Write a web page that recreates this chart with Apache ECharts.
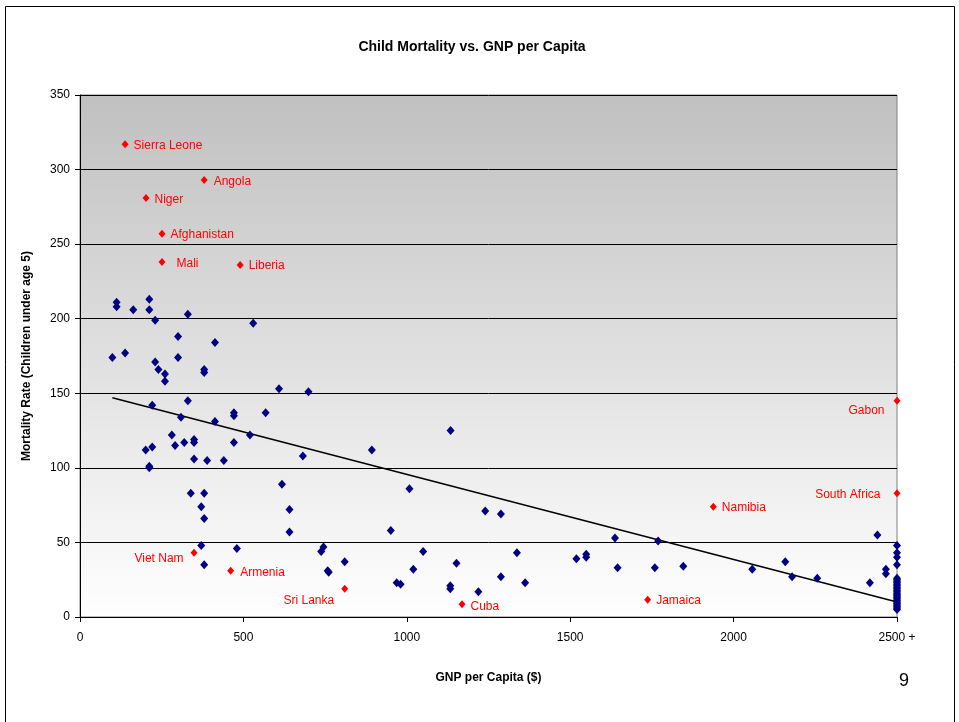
<!DOCTYPE html>
<html><head><meta charset="utf-8">
<script src="https://cdn.jsdelivr.net/npm/echarts@6/dist/echarts.min.js"></script>
<style>html,body{margin:0;padding:0;background:#fff}#c{width:959px;height:722px}</style>
</head><body><div id="c"></div>
<script>
// ---- data ----
const xTicks = [0, 500, 1000, 1500, 2000, 2500];
const yTicks = [0, 50, 100, 150, 200, 250, 300, 350];
const blueX = [112,112,163,212,212,230,330,530,300,413,99,138,230,300,240,260,380,380,260,609,699,221,330,309,413,471,471,568,520,281,291,319,349,349,471,201,221,682,349,389,440,212,212,339,380,371,380,618,641,641,371,480,380,1134,893,1008,951,1240,1288,745,738,810,761,758,1050,1020,969,981,1133,1133,1152,1219,1288,1337,1362,1519,1549,1549,1637,1645,1769,1759,1846,2440,2057,2158,2179,2256,2417,2466,2466,
 2500,2500,2500,2500,2500,2500,2500,2500,2500,2500,2500,2500,2500,2500,2500,2500,2500,2500,2500,2500,2500,2500,2500,2500,2500,2500];
const blueY = [211,208,206,213,206,199,203,197,188,184,174,177,171,174,166,163,166,164,158,153,151,142,145,134,131,137,135,137,122,122,115,117,117,119,117,112,114,108,106,105,105,100,101,83,83,74,66,89,72,57,48,46,35,125,112,86,58,71,69,47,44,37,30,31,44,32,23,22,21,19,36,17,27,43,23,39,40,42,53,33,51,33,34,55,32,37,27,26,23,32,29,
 48,43,40,35,26,25,24,23,22,21,20,19,18,17,16,15,14,13,12,11,10,9,8,7,6,5];
const redNames = ["Sierra Leone","Angola","Niger","Afghanistan","Mali","Liberia","Gabon","South Africa","Namibia","Viet Nam","Armenia","Sri Lanka","Cuba","Jamaica"];
const redX = [138,380,202,251,251,490,2500,2500,1938,349,461,810,1169,1737];
const redY = [317,293,281,257,238,236,145,83,74,43,31,19,8.5,11.5];
const trendX = [99, 2500];
const trendY = [147, 10];

// ---- styles ----
const FONT = "'Liberation Sans', Arial, sans-serif";
const labelPlacement = {
  "Mali": {position:'right', dx:6, dy:2},
  "Gabon": {position:'left', dx:-4, dy:10},
  "South Africa": {position:'left', dx:-8, dy:1},
  "Viet Nam": {position:'left', dx:-2, dy:6},
  "Sri Lanka": {position:'left', dx:-2, dy:12},
  "Angola": {position:'right', dx:1, dy:2},
  "Armenia": {position:'right', dx:1, dy:2},
  "Niger": {position:'right', dx:0, dy:2},
  "Cuba": {position:'right', dx:0, dy:2}
};
const placeOf = n => labelPlacement[n] || {position:'right', dx:0, dy:1};

const blueData = blueX.map((x,i)=>[x, blueY[i]]);
const redData = redNames.map((n,i)=>({name:n, value:[redX[i], redY[i]],
  label:{show:true, position:placeOf(n).position}}));
const trendData = trendX.map((x,i)=>[x, trendY[i]]);

const chart = echarts.init(document.getElementById('c'), null, {renderer:'canvas'});
chart.setOption({
  animation:false,
  backgroundColor:'#ffffff',
  title:{text:'Child Mortality vs. GNP per Capita', left:467, top:35, textAlign:'center',
    textStyle:{fontFamily:FONT, fontSize:14, fontWeight:'bold', color:'#000'}},
  graphic:[
    {type:'rect', shape:{x:5.5, y:6.5, width:949, height:730}, style:{fill:null, stroke:'#000', lineWidth:1}, silent:true, z:-1},
    {type:'text', left:899, top:672, style:{text:'9', fontFamily:FONT, fontSize:18, fill:'#000'}}
  ],
  grid:{left:80, top:95, width:817, height:522, show:true,
    backgroundColor:{type:'linear', x:0, y:0, x2:0, y2:1, colorStops:[{offset:0, color:'#c0c0c0'},{offset:1, color:'#ffffff'}]},
    borderColor:'#808080', borderWidth:1},
  xAxis:{type:'value', min:0, max:2500, interval:500,
    name:'GNP per Capita ($)', nameLocation:'middle', nameGap:55,
    nameTextStyle:{fontFamily:FONT, fontSize:12, fontWeight:'bold', color:'#000'},
    axisLine:{show:true, onZero:false, lineStyle:{color:'#000', width:1}},
    axisTick:{show:true, inside:false, length:5, lineStyle:{color:'#000'}},
    axisLabel:{fontFamily:FONT, fontSize:12, color:'#000', margin:15,
      formatter:v=> v===2500 ? '2500 +' : String(v)},
    splitLine:{show:false}},
  yAxis:{type:'value', min:0, max:350, interval:50,
    name:'Mortality Rate (Children under age 5)', nameLocation:'middle', nameGap:47,
    nameTextStyle:{fontFamily:FONT, fontSize:12, fontWeight:'bold', color:'#000'},
    axisLine:{show:true, onZero:false, lineStyle:{color:'#000', width:1}},
    axisTick:{show:true, inside:false, length:5, lineStyle:{color:'#000'}},
    axisLabel:{fontFamily:FONT, fontSize:12, color:'#000', margin:10},
    splitLine:{show:true, lineStyle:{color:'#000', width:1}}},
  series:[
    {type:'line', data:trendData, symbol:'none', lineStyle:{color:'#000', width:1.5}, z:2, silent:true},
    {type:'scatter', data:blueData, symbol:'diamond', symbolSize:[8,9], itemStyle:{color:'#000080', opacity:1}, z:3},
    {type:'scatter', data:redData, symbol:'diamond', symbolSize:[7,8], itemStyle:{color:'#ff0000', opacity:1}, z:4,
      label:{show:true, formatter:'{b}', color:'#ff0000', fontSize:12, fontFamily:FONT, distance:5},
      labelLayout:function(params){
        const p = placeOf(redNames[params.dataIndex]);
        return {dx:p.dx, dy:p.dy, hideOverlap:false};
      }}
  ]
});
</script></body></html>
